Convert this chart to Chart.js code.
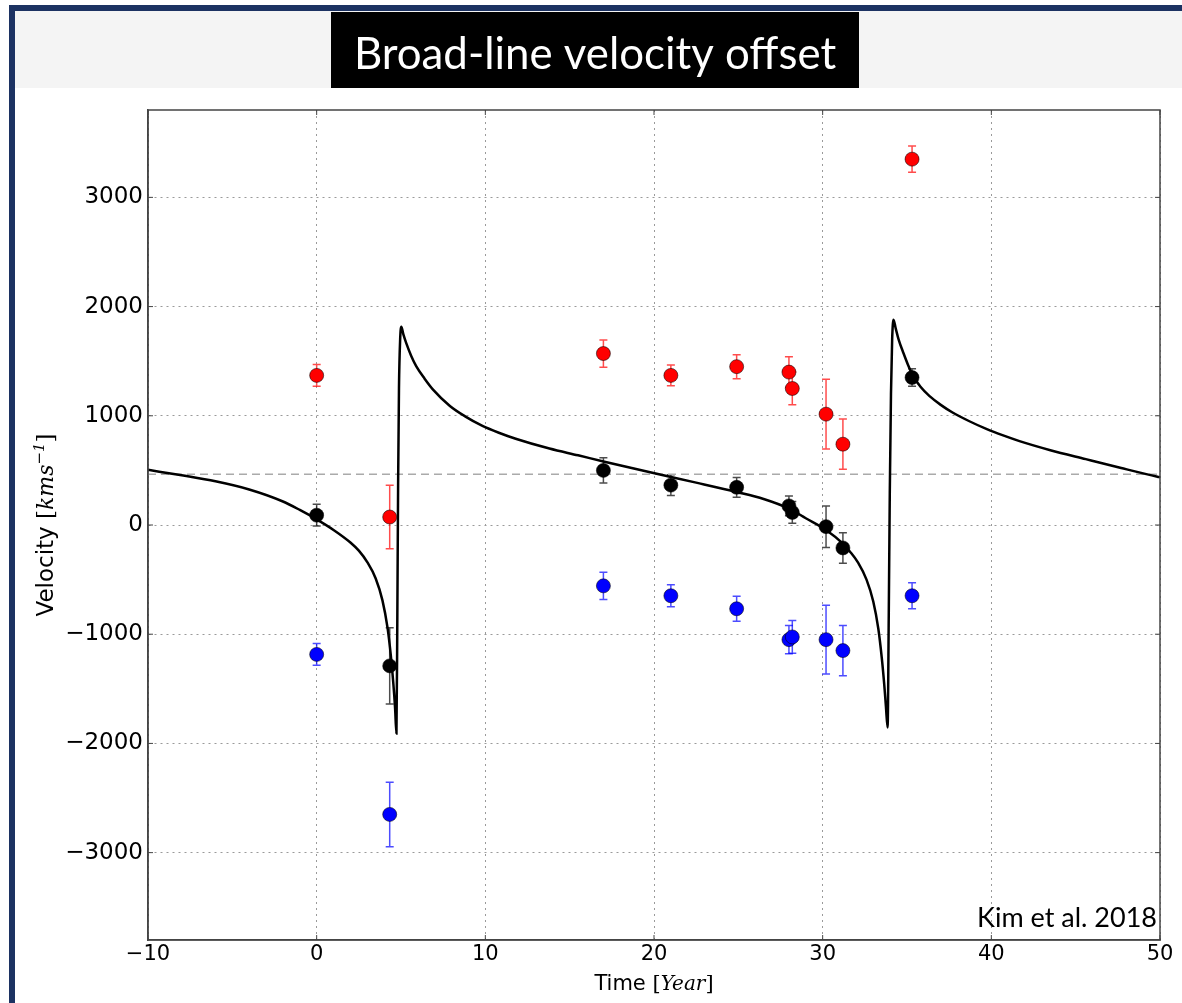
<!DOCTYPE html>
<html>
<head>
<meta charset="utf-8">
<script src="https://cdn.jsdelivr.net/npm/chart.js@4.4.1/dist/chart.umd.min.js"></script>
<style>
  html, body { margin: 0; padding: 0; background: #fff; }
  canvas { display: block; }
</style>
</head>
<body>
<canvas id="chart" width="1182" height="1003"></canvas>
<script>
// observation epochs (years)
const obsTime = [0, 4.33, 17.0, 21.0, 24.9, 28.0, 28.2, 30.2, 31.2, 35.3];

// red / black / blue broad-line offsets (km/s) with errors
const redVel = [1370, 73, 1570, 1370, 1450, 1400, 1250, 1015, 740, 3350];
const redErr = [100, 290, 125, 95, 110, 140, 150, 320, 230, 120];
const blackVel = [90, -1290, 500, 365, 345, 175, 115, -15, -210, 1350];
const blackErr = [100, 350, 115, 95, 90, 90, 100, 190, 140, 80];
const blueVel = [-1185, -2650, -557, -648, -767, -1050, -1025, -1050, -1150, -648];
const blueErr = [100, 295, 125, 100, 115, 130, 150, 315, 230, 120];

// model curve
const modelTime = [-10, -8, -6, -4, -2, -1, 0, 1, 2, 2.5, 3, 3.5, 3.9, 4.2, 4.4, 4.55, 4.65, 4.73,
  4.78, 4.83, 4.88, 4.95, 5.02, 5.15, 5.3, 5.6, 5.9, 6.4, 6.9, 7.9, 8.8, 9.8, 10.8, 11.8, 13.8, 15.5,
  17, 19.9, 22.5, 24.9, 26.5, 28, 29, 30.2, 31.2, 31.6, 32.1, 32.6, 33.0, 33.3, 33.5, 33.65, 33.75, 33.85,
  33.92, 33.98, 34.05, 34.12, 34.2, 34.33, 34.5, 34.8, 35.05, 35.33, 35.8, 36.34, 37, 37.7,
  38.7, 39.7, 40.7, 41.67, 43.5, 45.6, 47.7, 49.85, 50];
const modelVel = [505, 455, 400, 325, 215, 138, 52, -45, -160, -235, -340, -490, -690, -940, -1200, -1460, -1680, -1910,
  -900, 400, 1250, 1700, 1815, 1740, 1670, 1550, 1455, 1340, 1240, 1090, 995, 910, 845, 790, 700, 638,
  582, 478, 388, 302, 238, 150, 62, -45, -170, -240, -345, -500, -700, -950, -1210, -1460, -1660, -1855,
  -800, 300, 1200, 1700, 1880, 1800, 1700, 1570, 1470, 1375, 1265, 1180, 1100, 1030,
  950, 880, 820, 768, 685, 603, 522, 442, 437];

const meanVel = 465;
const xTicks = [-10, 0, 10, 20, 30, 40, 50];
const yTicks = [-3000, -2000, -1000, 0, 1000, 2000, 3000];

const titleText = 'Broad-line velocity offset';
const creditText = 'Kim et al. 2018';

const pts = (xs, ys) => xs.map((x, i) => ({ x: x, y: ys[i] }));
const fmt = v => v < 0 ? '\u2212' + Math.abs(v) : String(v);

// draw a row of text pieces with different fonts
function drawRuns(ctx, runs, cx, baseY) {
  let total = 0;
  runs.forEach(r => { ctx.font = r.font; r.w = ctx.measureText(r.text).width; total += r.w; });
  let x = cx - total / 2;
  runs.forEach(r => {
    ctx.font = r.font;
    ctx.fillText(r.text, x, baseY + (r.dy || 0));
    x += r.w;
  });
}

const decor = {
  id: 'decor',
  beforeDraw(chart) {
    const ctx = chart.ctx;
    const W = chart.width, H = chart.height;
    ctx.save();
    ctx.fillStyle = '#fff';
    ctx.fillRect(0, 0, W, H);
    ctx.fillStyle = '#f4f4f4';
    ctx.fillRect(15, 11, W - 15, 77);
    ctx.fillStyle = '#1c3262';
    ctx.fillRect(9, 5, W - 9, 6);
    ctx.fillRect(9, 5, 6, H - 5);
    // title box
    ctx.fillStyle = '#000';
    ctx.fillRect(331, 12, 528, 76);
    ctx.fillStyle = '#fff';
    ctx.textAlign = 'center';
    ctx.textBaseline = 'alphabetic';
    let size = 44;
    ctx.font = size + 'px Lato';
    size = size * 482 / ctx.measureText(titleText).width;
    ctx.font = size.toFixed(1) + 'px Lato';
    ctx.fillText(titleText, 595, 69);
    ctx.restore();
  },
  beforeDatasetsDraw(chart) {
    const { ctx, scales: { x, y } } = chart;
    ctx.save();
    ctx.lineWidth = 1.5;
    chart.data.datasets.forEach(ds => {
      if (!ds.errors) return;
      ctx.strokeStyle = ds.errColor;
      ds.data.forEach((p, i) => {
        const px = x.getPixelForValue(p.x);
        const t = y.getPixelForValue(p.y + ds.errors[i]);
        const b = y.getPixelForValue(p.y - ds.errors[i]);
        ctx.beginPath();
        ctx.moveTo(px, t); ctx.lineTo(px, b);
        ctx.moveTo(px - 4, t); ctx.lineTo(px + 4, t);
        ctx.moveTo(px - 4, b); ctx.lineTo(px + 4, b);
        ctx.stroke();
      });
    });
    ctx.restore();
  },
  afterDraw(chart) {
    const { ctx, chartArea: a, scales: { x, y } } = chart;
    ctx.save();
    // full frame + inward ticks
    ctx.strokeStyle = '#444';
    ctx.lineWidth = 1.5;
    ctx.strokeRect(a.left, a.top, a.right - a.left, a.bottom - a.top);
    ctx.lineWidth = 1;
    ctx.beginPath();
    xTicks.forEach(v => {
      const px = x.getPixelForValue(v);
      ctx.moveTo(px, a.bottom); ctx.lineTo(px, a.bottom - 5);
      ctx.moveTo(px, a.top); ctx.lineTo(px, a.top + 5);
    });
    yTicks.forEach(v => {
      const py = y.getPixelForValue(v);
      ctx.moveTo(a.left, py); ctx.lineTo(a.left + 5, py);
      ctx.moveTo(a.right, py); ctx.lineTo(a.right - 5, py);
    });
    ctx.stroke();

    ctx.fillStyle = '#000';
    ctx.textBaseline = 'alphabetic';
    ctx.textAlign = 'left';
    // x title
    drawRuns(ctx, [
      { text: 'Time ', font: '21px "DejaVu Sans"' },
      { text: '[', font: '21px "DejaVu Serif"' },
      { text: 'Year', font: 'italic 20px "DejaVu Serif"' },
      { text: ']', font: '21px "DejaVu Serif"' }
    ], (a.left + a.right) / 2, 990);
    // y title
    ctx.save();
    ctx.translate(53, (a.top + a.bottom) / 2);
    ctx.rotate(-Math.PI / 2);
    drawRuns(ctx, [
      { text: 'Velocity ', font: '23px "DejaVu Sans"' },
      { text: '[', font: '23px "DejaVu Serif"' },
      { text: 'kms', font: 'italic 22px "DejaVu Serif"' },
      { text: '\u22121', font: 'italic 15px "DejaVu Serif"', dy: -9 },
      { text: ']', font: '23px "DejaVu Serif"' }
    ], 0, 0);
    ctx.restore();
    // credit
    ctx.textAlign = 'right';
    ctx.font = '27px Lato';
    ctx.fillText(creditText, 1157, 927);
    ctx.restore();
  }
};

const marker = (fill) => ({
  backgroundColor: fill,
  borderColor: 'rgba(0,0,0,0.55)',
  borderWidth: 1,
  pointRadius: 7,
  pointHoverRadius: 7,
  showLine: false
});

new Chart(document.getElementById('chart'), {
  type: 'scatter',
  data: {
    datasets: [
      Object.assign({ label: 'red', data: pts(obsTime, redVel), errors: redErr, errColor: 'rgba(255,0,0,0.7)', order: 0 }, marker('#ff0000')),
      Object.assign({ label: 'blue', data: pts(obsTime, blueVel), errors: blueErr, errColor: 'rgba(0,0,255,0.7)', order: 0 }, marker('#0000ff')),
      Object.assign({ label: 'black', data: pts(obsTime, blackVel), errors: blackErr, errColor: 'rgba(0,0,0,0.7)', order: 0 }, marker('#000000')),
      {
        label: 'model',
        data: pts(modelTime, modelVel),
        showLine: true,
        borderColor: '#000',
        borderWidth: 2.5,
        pointRadius: 0,
        cubicInterpolationMode: 'monotone',
        order: 2
      },
      {
        label: 'mean',
        data: pts([-10, 50], [meanVel, meanVel]),
        showLine: true,
        borderColor: '#aaaaaa',
        borderWidth: 1.5,
        borderDash: [8, 5],
        pointRadius: 0,
        order: 3
      }
    ]
  },
  options: {
    responsive: false,
    animation: false,
    events: [],
    layout: { padding: { top: 110, right: 22, left: 0, bottom: 0 } },
    plugins: {
      legend: { display: false },
      tooltip: { enabled: false }
    },
    scales: {
      x: {
        type: 'linear',
        min: -10,
        max: 50,
        afterBuildTicks: s => { s.ticks = xTicks.map(v => ({ value: v })); },
        afterFit: s => { s.height = 63; },
        ticks: {
          callback: v => fmt(v),
          color: '#000',
          padding: 2,
          maxRotation: 0,
          font: { family: 'DejaVu Sans', size: 21 }
        },
        grid: { color: '#9a9a9a', lineWidth: 1, drawTicks: false },
        border: { display: true, color: '#444', width: 1.5, dash: [2, 4] }
      },
      y: {
        type: 'linear',
        min: -3800,
        max: 3800,
        afterBuildTicks: s => { s.ticks = yTicks.map(v => ({ value: v })); },
        afterFit: s => { s.width = 148; },
        ticks: {
          callback: v => fmt(v),
          color: '#000',
          padding: 5,
          font: { family: 'DejaVu Sans', size: 23 }
        },
        grid: { color: '#9a9a9a', lineWidth: 1, drawTicks: false },
        border: { display: true, color: '#444', width: 1.5, dash: [2, 4] }
      }
    }
  },
  plugins: [decor]
});
</script>
</body>
</html>
